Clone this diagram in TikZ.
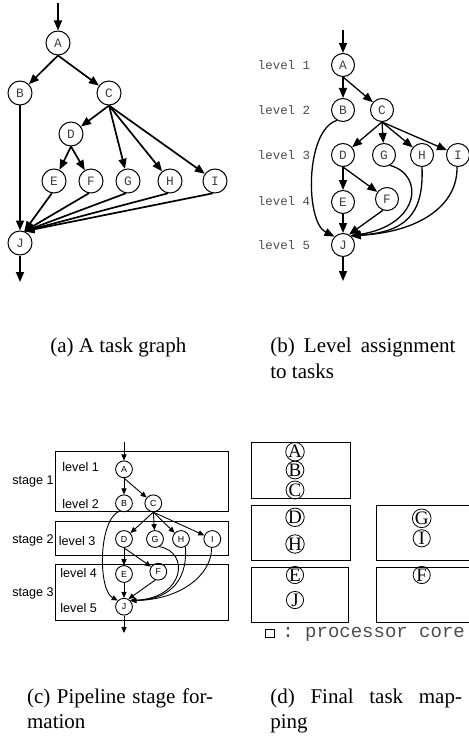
\documentclass[tikz,border=0pt]{standalone}
\usepackage{fontspec}
\setmainfont{Liberation Serif}
\setsansfont{Liberation Sans}
\setmonofont{Liberation Mono}
\usetikzlibrary{arrows.meta,calc,positioning}

\begin{document}
\begin{tikzpicture}[x=0.5pt,y=-0.5pt,>={Triangle[length=5pt,width=4pt]},
  task/.style={draw,circle,minimum size=12pt,inner sep=0pt,line width=0.5pt,
    font=\ttfamily\fontsize{6.4}{7}\selectfont,text=black!75},
  stask/.style={draw,circle,minimum size=8.4pt,inner sep=0pt,line width=0.45pt,
    font=\sffamily\fontsize{4.4}{5}\selectfont},
  ctask/.style={draw,circle,minimum size=8.6pt,inner sep=0pt,line width=0.4pt,
    font=\fontsize{9.5}{9.5}\selectfont},
  lvl/.style={font=\ttfamily\fontsize{6.2}{7}\selectfont,text=black!70},
  slbl/.style={font=\sffamily\fontsize{6.3}{7}\selectfont,inner sep=0pt},
  edge/.style={->,line width=0.85pt},
  medge/.style={->,line width=0.65pt},
  sedge/.style={-{Triangle[length=3pt,width=2.6pt]},line width=0.45pt},
  core/.style={line width=0.5pt},
  capt/.style={font=\fontsize{10.5}{12}\selectfont,anchor=base west,inner sep=0pt}]
  \useasboundingbox (0,0) rectangle (469,738);

  % (a) task graph
  \node[task] (a-A) at (58,43) {A};
  \node[task] (a-B) at (20,93) {B};
  \node[task] (a-C) at (109,93) {C};
  \node[task] (a-D) at (71,134) {D};
  \node[task] (a-E) at (54,181) {E};
  \node[task] (a-F) at (91,181) {F};
  \node[task] (a-G) at (128,181) {G};
  \node[task] (a-H) at (170,181) {H};
  \node[task] (a-I) at (215,181) {I};
  \node[task] (a-J) at (20,243) {J};
  \coordinate (a-in) at (58,3);
  \coordinate (a-out) at (20,282);
  \draw[edge] (a-in) -- (a-A);
  \draw[edge] (a-A.south) -- (a-B);
  \draw[edge] (a-A.south) -- (a-C);
  \draw[edge] (a-B) -- (a-J);
  \draw[edge] (a-C.south) -- (a-D);
  \draw[edge] (a-C.south) -- (a-G);
  \draw[edge] (a-C.south) -- (a-H);
  \draw[edge] (a-C.south) -- (a-I);
  \draw[edge] (a-D.south) -- (a-E);
  \draw[edge] (a-D.south) -- (a-F);
  \draw[edge] (a-E.-100) -- (a-J.70);
  \draw[edge] (a-F.-100) -- (a-J.70);
  \draw[edge] (a-G.-100) -- (a-J.70);
  \draw[edge] (a-H.-100) -- (a-J.70);
  \draw[edge] (a-I.-100) -- (a-J.70);
  \draw[edge] (a-J) -- (a-out);

  % (b) levels
  \node[lvl] (lv1) at (284,65) {level 1};
  \node[lvl] (lv2) at (284,110) {level 2};
  \node[lvl] (lv3) at (284,155) {level 3};
  \node[lvl] (lv4) at (284,201) {level 4};
  \node[lvl] (lv5) at (284,245) {level 5};
  \node[task,minimum size=11.5pt] (b-A) at (343,65) {A};
  \node[task,minimum size=11.5pt] (b-B) at (343,110) {B};
  \node[task,minimum size=11.5pt] (b-C) at (382,110) {C};
  \node[task,minimum size=11.5pt] (b-D) at (343,155) {D};
  \node[task,minimum size=11.5pt] (b-G) at (384,155) {G};
  \node[task,minimum size=11.5pt] (b-H) at (422,155) {H};
  \node[task,minimum size=11.5pt] (b-I) at (458,155) {I};
  \node[task,minimum size=11.5pt] (b-E) at (343,202) {E};
  \node[task,minimum size=11.5pt] (b-F) at (387,199) {F};
  \node[task,minimum size=11.5pt] (b-J) at (343,245) {J};
  \coordinate (b-in) at (343,30);
  \coordinate (b-out) at (343,281);
  \draw[medge] (b-in) -- (b-A);
  \draw[medge] (b-A) -- (b-B);
  \draw[medge] (b-A.south) -- (b-C);
  \draw[medge] (b-C.south) -- (b-D);
  \draw[medge] (b-C.south) -- (b-G);
  \draw[medge] (b-C.south) -- (b-H);
  \draw[medge] (b-C.south) -- (b-I);
  \draw[medge] (b-D) -- (b-E);
  \draw[medge] (b-D.south) -- (b-F);
  \draw[medge] (b-E) -- (b-J);
  \draw[medge] (b-F.-110) -- (b-J.60);
  \draw[medge] (b-B.-120) .. controls (305,130) and (305,222) .. (b-J.135);
  \draw[medge] (b-G.-60) .. controls (425,175) and (420,225) .. (b-J.50);
  \draw[medge] (b-H.-90) .. controls (424,215) and (405,232) .. (b-J.50);
  \draw[medge] (b-I.-95) .. controls (458,205) and (420,232) .. (b-J.50);
  \draw[medge] (b-J) -- (b-out);

  % (c) pipeline stages
  \draw[core] (55,451.7) rectangle (228,511.7);
  \draw[core] (55,521) rectangle (228,555.7);
  \draw[core] (55,564.3) rectangle (228,620);
  \node[slbl,anchor=east] (st1) at (54,481) {stage 1};
  \node[slbl,anchor=east] (st2) at (54,540.7) {stage 2};
  \node[slbl,anchor=east] (st3) at (54,593) {stage 3};
  \node[slbl,anchor=west] (cl1) at (62,466.7) {level 1};
  \node[slbl,anchor=west] (cl2) at (62,504) {level 2};
  \node[slbl,anchor=west] (cl3) at (58.5,540.7) {level 3};
  \node[slbl,anchor=west] (cl4) at (60,573.3) {level 4};
  \node[slbl,anchor=west] (cl5) at (60,608) {level 5};
  \node[stask] (c-A) at (124,469.3) {A};
  \node[stask] (c-B) at (124,503.3) {B};
  \node[stask] (c-C) at (153.3,503.3) {C};
  \node[stask] (c-D) at (124,539) {D};
  \node[stask] (c-G) at (155,539) {G};
  \node[stask] (c-H) at (181,539) {H};
  \node[stask] (c-I) at (212.3,539) {I};
  \node[stask] (c-E) at (124,574) {E};
  \node[stask] (c-F) at (158.3,571.7) {F};
  \node[stask] (c-J) at (124,606.7) {J};
  \coordinate (c-in) at (124,442);
  \coordinate (c-out) at (124,633);
  \draw[sedge] (c-in) -- (c-A);
  \draw[sedge] (c-A) -- (c-B);
  \draw[sedge] (c-A.south) -- (c-C);
  \draw[sedge] (c-C.south) -- (c-D);
  \draw[sedge] (c-C.south) -- (c-G);
  \draw[sedge] (c-C.south) -- (c-H);
  \draw[sedge] (c-C.south) -- (c-I);
  \draw[sedge] (c-D) -- (c-E);
  \draw[sedge] (c-D.south) -- (c-F);
  \draw[sedge] (c-E) -- (c-J);
  \draw[sedge] (c-F.-110) -- (c-J.60);
  \draw[sedge] (c-B.-120) .. controls (98,520) and (98,590) .. (c-J.135);
  \draw[sedge] (c-G.-60) .. controls (190,552) and (185,598) .. (c-J.45);
  \draw[sedge] (c-H.-60) .. controls (188,585) and (165,600) .. (c-J.45);
  \draw[sedge] (c-I.-95) .. controls (212,575) and (180,600) .. (c-J.45);
  \draw[sedge] (c-J) -- (c-out);

  % (d) mapping onto cores
  \draw[core] (251.7,442.7) rectangle (350,498.3);
  \draw[core] (251.7,505) rectangle (350,560);
  \draw[core] (469,505) -- (376.7,505) -- (376.7,560) -- (469,560);
  \draw[core] (251.7,567.7) rectangle (348.3,622);
  \draw[core] (469,567.7) -- (376.7,567.7) -- (376.7,622) -- (469,622);
  \node[ctask] (d-A) at (295,451.7) {A};
  \node[ctask] (d-B) at (295,470) {B};
  \node[ctask] (d-C) at (295,490) {C};
  \node[ctask] (d-D) at (295,517.3) {D};
  \node[ctask] (d-H) at (295,544) {H};
  \node[ctask] (d-G) at (421.7,518.3) {G};
  \node[ctask] (d-I) at (421.7,538.3) {I};
  \node[ctask] (d-E) at (295,575) {E};
  \node[ctask] (d-J) at (295,600) {J};
  \node[ctask] (d-F) at (421.7,575) {F};
  \node[draw,minimum size=4.2pt,inner sep=0pt,line width=0.4pt] (key) at (269.7,633.5) {};
  \node[font=\ttfamily\fontsize{9.5}{10}\selectfont,text=black!70,anchor=west,inner sep=0pt] (keytxt) at (282,634) {: processor core};

  % captions
  \node[capt] (cap-a) at (50,352.5) {(a) A task graph};
  \node[capt] (cap-b1) at (270,352.5) {\makebox[92.5pt][s]{(b) Level assignment}};
  \node[capt] (cap-b2) at (270,378.5) {to tasks};
  \node[capt] (cap-c1) at (26.7,703.3) {\makebox[93pt][s]{(c) Pipeline stage for-}};
  \node[capt] (cap-c2) at (26.7,728.3) {mation};
  \node[capt] (cap-d1) at (270,703.3) {\makebox[95.8pt][s]{(d) Final task map-}};
  \node[capt] (cap-d2) at (270,728.3) {ping};
\end{tikzpicture}
\end{document}
